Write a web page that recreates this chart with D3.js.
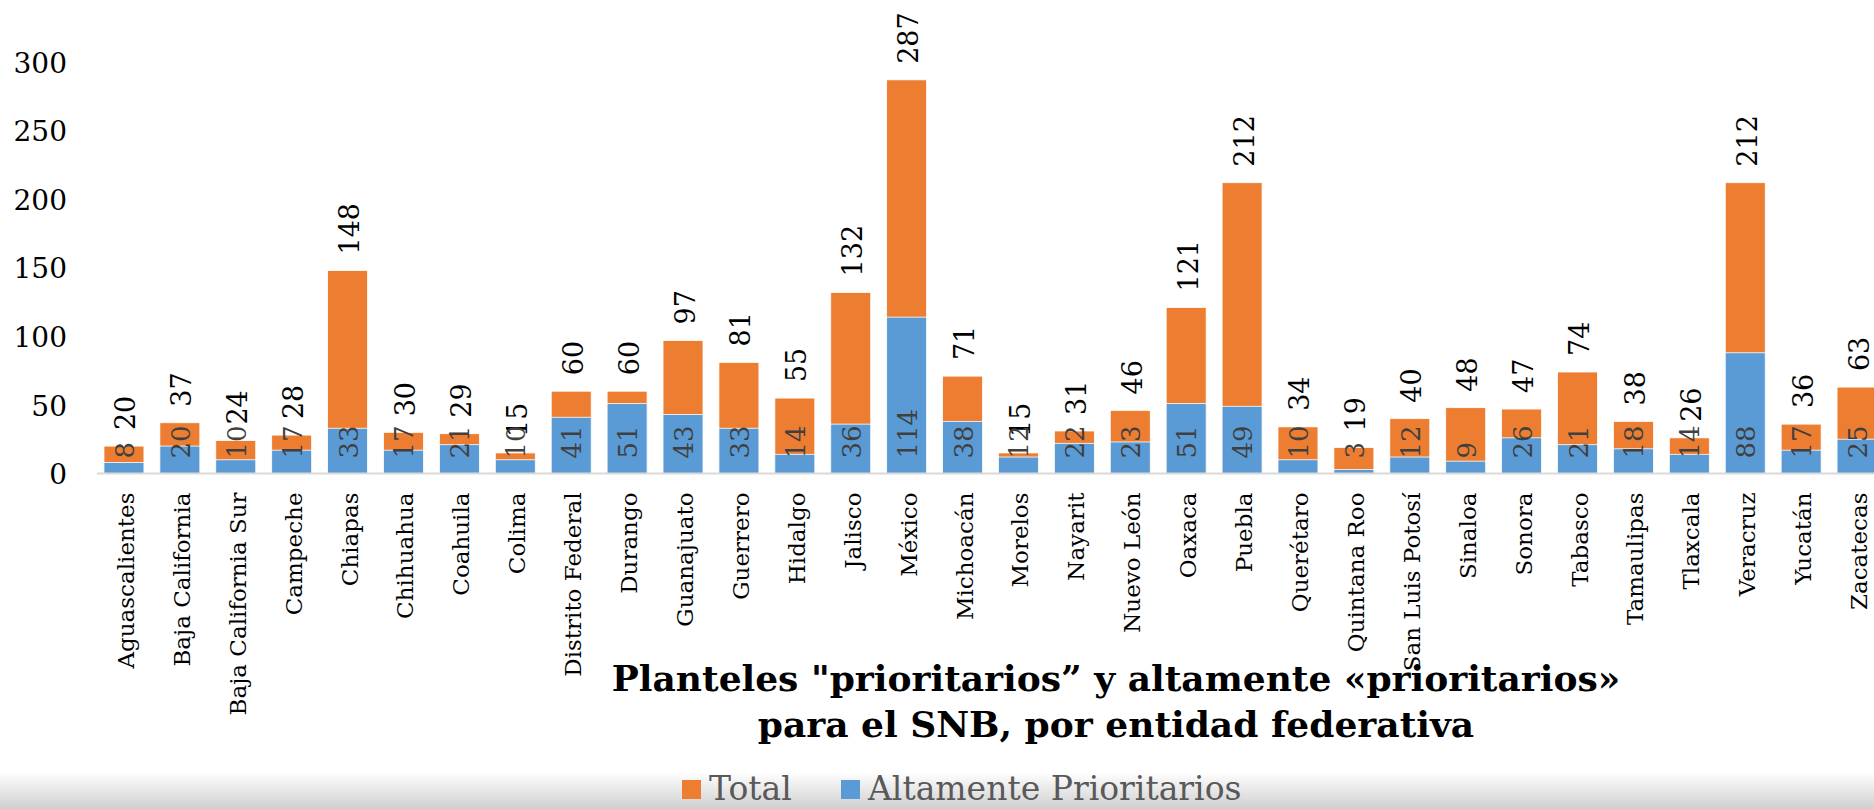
<!DOCTYPE html>
<html>
<head>
<meta charset="utf-8">
<script src="https://cdn.jsdelivr.net/npm/d3@7"></script>
<style>
  body { margin: 0; background: #fff; }
  svg { display: block; }
  .tick-label { font-family: "DejaVu Serif", serif; font-size: 28px; fill: #000; }
  .state { font-family: "DejaVu Serif", serif; font-size: 23px; fill: #000; }
  .total-label { font-family: "DejaVu Serif", serif; font-size: 27px; fill: #000; }
  .alt-label { font-family: "DejaVu Serif", serif; font-size: 26px; fill: #404040; }
  .title { font-family: "DejaVu Serif", serif; font-weight: bold; font-size: 36px; fill: #000; }
  .legend { font-family: "DejaVu Serif", serif; font-size: 33px; fill: #595959; }
</style>
</head>
<body>
<div class="chart-area"></div>
<script>
var states = [
  "Aguascalientes", "Baja California", "Baja California Sur", "Campeche",
  "Chiapas", "Chihuahua", "Coahuila", "Colima", "Distrito Federal",
  "Durango", "Guanajuato", "Guerrero", "Hidalgo", "Jalisco", "México",
  "Michoacán", "Morelos", "Nayarit", "Nuevo León", "Oaxaca", "Puebla",
  "Querétaro", "Quintana Roo", "San Luis Potosí", "Sinaloa", "Sonora",
  "Tabasco", "Tamaulipas", "Tlaxcala", "Veracruz", "Yucatán", "Zacatecas"
];

var total = [20, 37, 24, 28, 148, 30, 29, 15, 60, 60, 97, 81, 55, 132, 287,
             71, 15, 31, 46, 121, 212, 34, 19, 40, 48, 47, 74, 38, 26, 212, 36, 63];

var altamente = [8, 20, 10, 17, 33, 17, 21, 10, 41, 51, 43, 33, 14, 36, 114,
                 38, 12, 22, 23, 51, 49, 10, 3, 12, 9, 26, 21, 18, 14, 88, 17, 25];

var yTicks = [0, 50, 100, 150, 200, 250, 300];

var seriesNames = ["Total", "Altamente Prioritarios"],
    orange = "#ed7d31",
    blue = "#5b9bd5";

var width = 1874,
    height = 809,
    svg = d3.select(".chart-area")
            .append("svg")
            .attr("width", width)
            .attr("height", height);

var x = d3.scaleBand()
          .domain(states)
          .range([96, 1885])
          .paddingInner(0.285)
          .paddingOuter(0.1425);

var y = d3.scaleLinear()
          .domain([0, 300])
          .range([473.5, 62]);

// grey band at the bottom of the slide
var grad = svg.append("defs").append("linearGradient")
              .attr("id", "fade")
              .attr("x1", 0).attr("y1", 0).attr("x2", 0).attr("y2", 1);
grad.append("stop").attr("offset", "0%").attr("stop-color", "#ffffff");
grad.append("stop").attr("offset", "100%").attr("stop-color", "#cfcfcf");

svg.append("rect")
   .attr("x", 0)
   .attr("y", 772)
   .attr("width", width)
   .attr("height", height - 772)
   .attr("fill", "url(#fade)");

// y axis, labels only
var yAxis = svg.append("g")
               .attr("transform", "translate(67,0)")
               .call(d3.axisLeft(y).tickValues(yTicks).tickSize(0).tickPadding(0));
yAxis.select(".domain").remove();
yAxis.selectAll("text")
     .attr("class", "tick-label")
     .attr("dy", "0.36em")
     .attr("fill", null);

svg.selectAll(".bar-total")
   .data(total)
   .enter()
   .append("rect")
   .attr("class", "bar-total")
   .attr("x", function(d, i) { return x(states[i]) })
   .attr("y", function(d) { return y(d) })
   .attr("width", x.bandwidth())
   .attr("height", function(d) { return y(0) - y(d) })
   .attr("fill", orange)
   .attr("stroke", "#fff")
   .attr("stroke-width", 0.8);

svg.selectAll(".bar-alt")
   .data(altamente)
   .enter()
   .append("rect")
   .attr("class", "bar-alt")
   .attr("x", function(d, i) { return x(states[i]) })
   .attr("y", function(d) { return y(d) })
   .attr("width", x.bandwidth())
   .attr("height", function(d) { return y(0) - y(d) })
   .attr("fill", blue)
   .attr("stroke", "#fff")
   .attr("stroke-width", 0.8);

// x axis
var xAxis = svg.append("g")
               .attr("transform", "translate(0," + y(0) + ")")
               .call(d3.axisBottom(x).tickSize(0).tickPadding(0));
xAxis.select(".domain")
     .attr("stroke", "#d9d9d9")
     .attr("stroke-width", 2)
     .attr("d", "M97,0H" + width);
xAxis.selectAll("text")
     .attr("class", "state")
     .attr("fill", null)
     .attr("text-anchor", "end")
     .attr("dy", null)
     .attr("y", 0)
     .attr("dominant-baseline", "central")
     .attr("transform", "translate(2,19) rotate(-90)");

svg.selectAll(".total-label")
   .data(total)
   .enter()
   .append("text")
   .attr("class", "total-label")
   .text(function(d) { return d })
   .attr("text-anchor", "start")
   .attr("dominant-baseline", "central")
   .attr("transform", function(d, i) {
     return "translate(" + (x(states[i]) + x.bandwidth() / 2 + 2) + "," + (y(d) - 16) + ") rotate(-90)";
   });

svg.selectAll(".alt-label")
   .data(altamente)
   .enter()
   .append("text")
   .attr("class", "alt-label")
   .text(function(d) { return d })
   .attr("text-anchor", "start")
   .attr("dominant-baseline", "central")
   .attr("transform", function(d, i) {
     return "translate(" + (x(states[i]) + x.bandwidth() / 2 + 1) + "," + (y(0) - 15) + ") rotate(-90)";
   });

// chart title
var title = svg.append("text")
               .attr("class", "title")
               .attr("text-anchor", "middle");
title.append("tspan")
     .attr("x", 1116).attr("y", 691)
     .text("Planteles \"prioritarios\u201d y altamente \u00abprioritarios\u00bb");
title.append("tspan")
     .attr("x", 1116).attr("y", 737)
     .text("para el SNB, por entidad federativa");

// legend
var legendX = [682, 841];
var legend = svg.selectAll(".legend-item")
                .data(seriesNames)
                .enter()
                .append("g")
                .attr("class", "legend-item")
                .attr("transform", function(d, i) { return "translate(" + legendX[i] + ",780)" });
legend.append("rect")
      .attr("width", 19)
      .attr("height", 19)
      .attr("fill", function(d, i) { return i == 0 ? orange : blue });
legend.append("text")
      .attr("class", "legend")
      .attr("x", 27)
      .attr("y", 20)
      .text(function(d) { return d });
</script>
</body>
</html>
